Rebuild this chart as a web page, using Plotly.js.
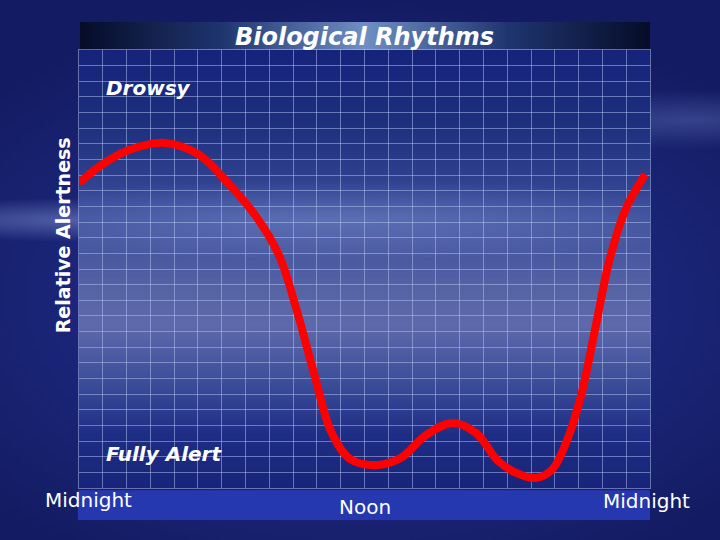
<!DOCTYPE html>
<html>
<head>
<meta charset="utf-8">
<script src="https://cdn.plot.ly/plotly-3.0.1.min.js"></script>
<style>
  html, body { margin: 0; padding: 0; width: 720px; height: 540px; overflow: hidden; }
  #wrap { position: relative; width: 720px; height: 540px;
    background:
      radial-gradient(ellipse 260px 22px at 90px 220px, rgba(150,170,230,0.45), rgba(150,170,230,0) 100%),
      radial-gradient(ellipse 200px 30px at 690px 120px, rgba(130,150,220,0.30), rgba(130,150,220,0) 100%),
      radial-gradient(ellipse 500px 300px at 360px 300px, #2a3a96 0%, #1a2578 60%, #131c62 100%);
  }
  #plotbg { position: absolute; left: 79px; top: 50px; width: 571px; height: 438px;
    background:
      radial-gradient(ellipse 420px 40px at 260px 170px, rgba(170,190,240,0.30), rgba(170,190,240,0) 100%),
      linear-gradient(to bottom, #15237a 0%, #1f307e 18%, #364896 35%, #5664a6 55%, #5d69aa 63%, #3e4f9a 75%, #1e2d84 88%, #17247a 100%);
  }
  #titlebar { position: absolute; left: 80px; top: 22px; width: 570px; height: 28px;
    background: linear-gradient(to right, #060c28 0%, #1f3570 25%, #6f8fc4 50%, #1f3570 75%, #060c28 100%);
  }
  #chart { position: absolute; left: 0; top: 0; width: 720px; height: 540px; }
</style>
</head>
<body>
<div id="wrap">
  <div id="titlebar"></div>
  <div id="plotbg"></div>
  <div id="chart"></div>
</div>
<script>
// Hours since midnight (0..24) and relative alertness (0 = fully alert, 28 = drowsy)
const hours = [0, 1.0, 2.1, 3.6, 5.0, 6.2, 7.4, 8.4, 9.2, 9.9, 10.6, 11.4, 12.5, 13.5, 14.6, 15.7, 16.7, 17.6, 18.4, 19.2, 19.9, 20.5, 21.1, 21.7, 22.3, 23.0, 23.8];
const alertness = [19.5, 20.7, 21.6, 22.06, 21.35, 19.6, 17.45, 14.9, 11.1, 7.2, 3.6, 1.85, 1.47, 1.9, 3.4, 4.16, 3.5, 1.75, 0.95, 0.64, 1.2, 3.0, 5.9, 10.2, 14.6, 17.9, 20.05];
const tickHours = [0, 12, 24];
const tickLabels = ["Midnight", "Noon", "Midnight"];
const tickShift = [9, 0, -4];
const tickY = [-0.027, -0.043, -0.030];

const gridColor = "rgba(185,195,245,0.5)";
const font = "DejaVu Sans, Verdana, sans-serif";

const annotations = tickHours.map((h, i) => ({
  x: h, xref: "x", y: tickY[i], yref: "paper",
  text: tickLabels[i], showarrow: false, xanchor: "center", yanchor: "middle",
  xshift: tickShift[i],
  font: { family: font, size: 20, color: "#ffffff" }
}));
annotations.push(
  { x: 0.044, xref: "paper", y: 0.913, yref: "paper", text: "Drowsy", showarrow: false,
    xanchor: "left", yanchor: "middle",
    font: { family: font, size: 20, color: "#ffffff", weight: "bold", style: "italic" } },
  { x: 0.044, xref: "paper", y: 0.078, yref: "paper", text: "Fully Alert", showarrow: false,
    xanchor: "left", yanchor: "middle",
    font: { family: font, size: 20, color: "#ffffff", weight: "bold", style: "italic" } },
  { x: -0.028, xref: "paper", y: 0.577, yref: "paper", text: "Relative Alertness", showarrow: false,
    textangle: -90, xanchor: "center", yanchor: "middle",
    font: { family: font, size: 19, color: "#ffffff", weight: "bold" } }
);

const trace = {
  x: hours, y: alertness, type: "scatter", mode: "lines",
  line: { color: "#ff0000", width: 8, shape: "spline", smoothing: 1 },
  hoverinfo: "skip"
};

const layout = {
  width: 720, height: 540,
  margin: { l: 79, r: 70, t: 50, b: 52 },
  paper_bgcolor: "rgba(0,0,0,0)",
  plot_bgcolor: "rgba(0,0,0,0)",
  showlegend: false,
  title: { text: "Biological Rhythms", x: 0.5, xref: "paper", xanchor: "center",
    y: 1 - 37 / 540, yanchor: "middle",
    font: { family: font, size: 24, color: "#ffffff", weight: "bold", style: "italic" } },
  xaxis: { range: [0, 24], dtick: 1, tick0: 0, showticklabels: false, ticks: "",
    showgrid: true, gridcolor: gridColor, gridwidth: 1, zeroline: false,
    showline: true, linecolor: gridColor, linewidth: 1, mirror: true, fixedrange: true },
  yaxis: { range: [0, 28], dtick: 1, tick0: 0, showticklabels: false, ticks: "",
    showgrid: true, gridcolor: gridColor, gridwidth: 1, zeroline: false,
    showline: true, linecolor: gridColor, linewidth: 1, mirror: true, fixedrange: true },
  shapes: [
    { type: "rect", xref: "paper", yref: "paper", x0: -0.002, x1: 1.0, y0: -0.073, y1: -0.005,
      fillcolor: "#2538b0", line: { width: 0 }, layer: "below" }
  ],
  annotations: annotations
};

Plotly.newPlot("chart", [trace], layout, { staticPlot: true, displayModeBar: false });
</script>
</body>
</html>
